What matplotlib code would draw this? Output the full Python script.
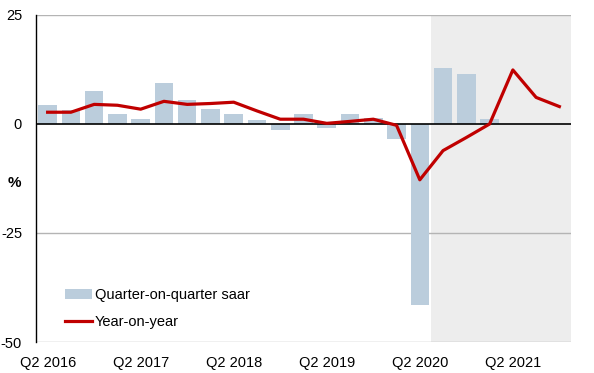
import numpy as np
import matplotlib.pyplot as plt

plt.rcParams["font.family"] = ["Liberation Sans", "DejaVu Sans"]

quarters = ["Q2 2016", "Q3 2016", "Q4 2016", "Q1 2017", "Q2 2017", "Q3 2017",
            "Q4 2017", "Q1 2018", "Q2 2018", "Q3 2018", "Q4 2018", "Q1 2019",
            "Q2 2019", "Q3 2019", "Q4 2019", "Q1 2020", "Q2 2020", "Q3 2020",
            "Q4 2020", "Q1 2021", "Q2 2021", "Q3 2021", "Q4 2021"]
qoq_saar = [4.4, 3.2, 7.6, 2.3, 1.1, 9.5, 5.5, 3.4, 2.3, 0.9, -1.4, 2.3,
            -0.9, 2.3, 1.4, -3.4, -41.5, 12.8, 11.5, 1.1, np.nan, np.nan, np.nan]
yoy = [2.7, 2.7, 4.5, 4.3, 3.4, 5.2, 4.5, 4.7, 5.0, 3.0, 1.1, 1.1,
       0.15, 0.6, 1.1, -0.3, -12.8, -6.1, -3.1, 0.0, 12.4, 6.1, 4.0]
shade_from = "Q2 2020"
yticks = [25, 0, -25, -50]

x = np.arange(len(quarters))

fig = plt.figure(figsize=(5.94, 3.73), dpi=100)
ax = fig.add_axes([36 / 594, 31 / 373, 535 / 594, 327 / 373])

start = quarters.index(shade_from) + 0.5
ax.axvspan(start, len(quarters) - 0.5, color="#ededed", zorder=0, lw=0)

for y in [25, -25, -50]:
    ax.axhline(y, color="#b4b4b4", lw=1, zorder=1)

bars = ax.bar(x, qoq_saar, width=0.8, color="#bbcddc", zorder=2,
              label="Quarter-on-quarter saar")
ax.axhline(0, color="black", lw=1.2, zorder=3)
line, = ax.plot(x, yoy, color="#c00000", lw=2.3, zorder=4, label="Year-on-year")

ax.set_xlim(-0.5, len(quarters) - 0.5)
ax.set_ylim(-50, 25)
ax.set_yticks(yticks)
ax.set_yticklabels([str(t) for t in yticks], fontsize=10.5)
ax.set_xticks(x[::4])
ax.set_xticklabels(quarters[::4], fontsize=10.5)
ax.tick_params(length=0, pad=10)

for side in ["top", "right", "bottom"]:
    ax.spines[side].set_visible(False)
ax.spines["left"].set_color("black")
ax.spines["left"].set_linewidth(1)

fig.text(14 / 594, 1 - 183 / 373, "%", fontsize=11, fontweight="bold",
         ha="center", va="center")

ax.legend(handles=[bars, line], loc="lower left", bbox_to_anchor=(0.03, 0.0),
          frameon=False, fontsize=10.5, handlelength=1.85, handletextpad=0.2,
          labelspacing=0.9)

fig.savefig("out.png", dpi=100)
